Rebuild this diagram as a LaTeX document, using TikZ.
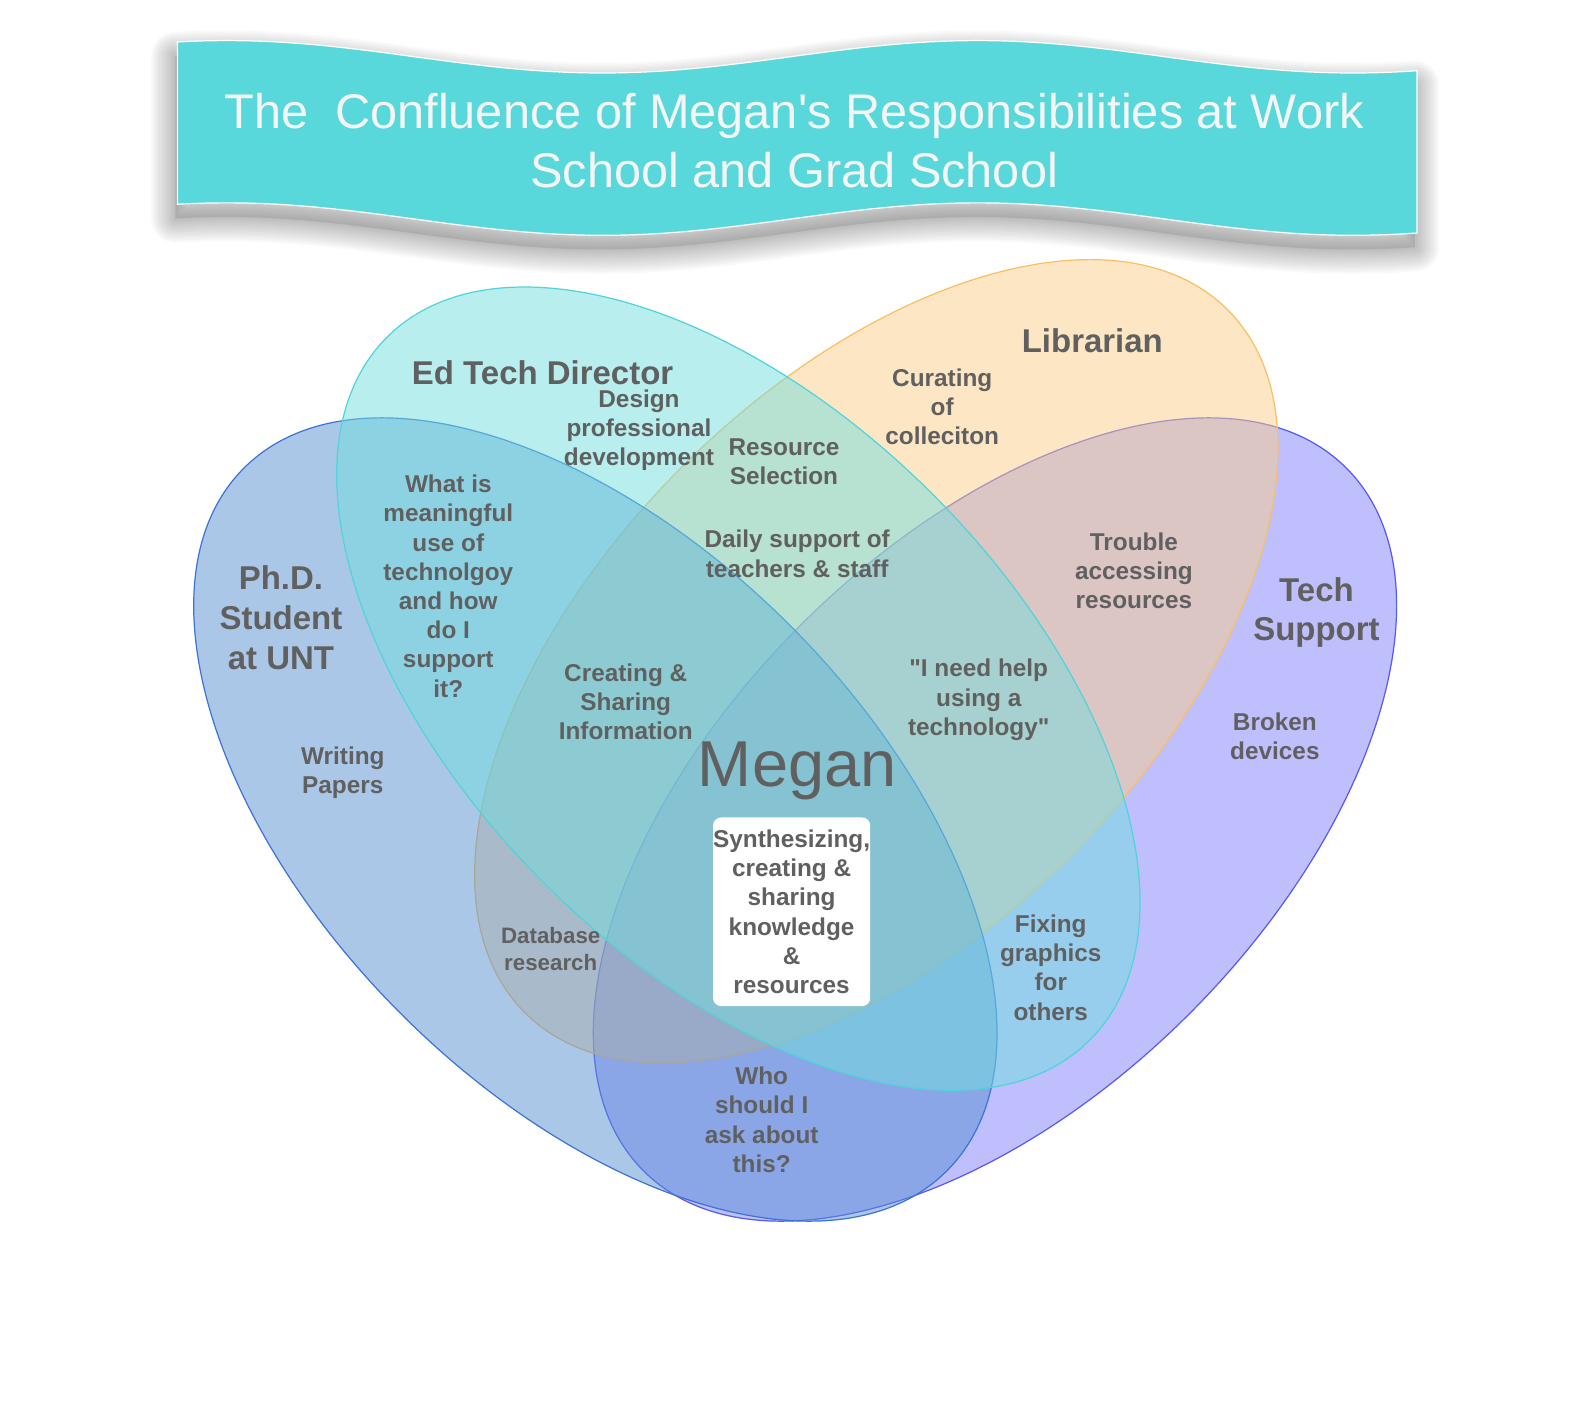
\documentclass[tikz,border=0pt]{standalone}
\usepackage{fontspec}
\setmainfont{Liberation Sans}[Ligatures=TeXOff]
\definecolor{textgray}{RGB}{96,96,96}
\definecolor{bannerC}{RGB}{88,216,218}
\definecolor{fillT}{RGB}{127,127,251}
\definecolor{fillL}{RGB}{251,205,137}
\definecolor{fillP}{RGB}{87,143,209}
\definecolor{fillE}{RGB}{113,221,221}
\definecolor{lineT}{RGB}{88,88,242}
\definecolor{lineL}{RGB}{248,192,98}
\definecolor{lineP}{RGB}{60,115,215}
\definecolor{lineE}{RGB}{80,212,218}
\begin{document}
\begin{tikzpicture}[x=0.5pt,y=-0.5pt,
  venn/.style={fill opacity=0.5, line width=0.6pt},
  lbl/.style={text=textgray, font=\bfseries\fontsize{12pt}{14.4pt}\selectfont, align=center, inner sep=0pt},
  smalllbl/.style={text=textgray, font=\bfseries\fontsize{11pt}{13.5pt}\selectfont, align=center, inner sep=0pt},
  hdr/.style={text=textgray, font=\bfseries\fontsize{16.25pt}{19.5pt}\selectfont, align=center, inner sep=0pt},
  titletext/.style={text=white!96!black, font=\fontsize{24pt}{29pt}\selectfont, align=center, inner sep=0pt},
  synbox/.style={lbl, fill=white, rounded corners=4pt, minimum width=77.5pt, minimum height=93pt, inner sep=0pt},
  shadowcore/.style={fill=black, fill opacity=0.10, draw=none},
  shadowlayer/.style={draw=black, draw opacity=0.022, fill=none, line join=round}
]
\useasboundingbox (0,0) rectangle (1567.7,1391.2);

% banner shadow (soft stacked layers)
\path[shadowcore, shift={(-2,14)}]
  plot[domain=175:1397, samples=60] (\x,{56+16*cos(0.48649*(\x-594))})
  -- plot[domain=1397:175, samples=60] (\x,{216+16*cos(0.48649*(\x-594))}) -- cycle;
\foreach \w in {2,4,...,24} {
  \path[shadowlayer, line width=\w pt, shift={(-2,14)}]
    plot[domain=175:1397, samples=60] (\x,{56+16*cos(0.48649*(\x-594))})
    -- plot[domain=1397:175, samples=60] (\x,{216+16*cos(0.48649*(\x-594))}) -- cycle;
}
% banner
\path[fill=bannerC, draw=white, line width=0.6pt]
  plot[domain=175:1397, samples=90] (\x,{56+16*cos(0.48649*(\x-594))})
  -- plot[domain=1397:175, samples=90] (\x,{216+16*cos(0.48649*(\x-594))}) -- cycle;
\node[titletext] (title) at (783,139) {The~~Confluence of Megan's Responsibilities at Work\\School and Grad School};

% ellipses (order: tech, librarian, phd, edtech)
\path[venn, fill=fillT, draw=lineT, rotate around={45:(981,808)}] (981,808) ellipse [x radius=490, y radius=271];
\path[venn, fill=fillL, draw=lineL, rotate around={45:(864,652)}] (864,652) ellipse [x radius=490, y radius=271];
\path[venn, fill=fillP, draw=lineP, rotate around={-45:(587,808)}] (587,808) ellipse [x radius=490, y radius=271];
\path[venn, fill=fillE, draw=lineE, rotate around={-45:(728,679)}] (728,679) ellipse [x radius=490, y radius=271];

% headers
\node[hdr] (edtech) at (535,367) {Ed Tech Director};
\node[hdr] (librarian) at (1077,336) {Librarian};
\node[hdr] (phd) at (277,609) {Ph.D.\\Student\\at UNT};
\node[hdr] (techsupport) at (1298,604) {Tech\\Support};

% labels
\node[lbl] (design) at (630,424) {Design\\professional\\development};
\node[lbl] (resource) at (773,455) {Resource\\Selection};
\node[lbl] (curating) at (929,401) {Curating\\of\\colleciton};
\node[lbl] (meaningful) at (442,578) {What is\\meaningful\\use of\\technolgoy\\and how\\do I\\support\\it?};
\node[lbl] (daily) at (786,546) {Daily support of\\teachers \& staff};
\node[lbl] (trouble) at (1118,563) {Trouble\\accessing\\resources};
\node[lbl] (creating) at (617,692) {Creating \&\\Sharing\\Information};
\node[lbl] (needhelp) at (965,690) {"I need help\\using a\\technology"};
\node[lbl] (writing) at (338,762) {Writing\\Papers};
\node[lbl] (broken) at (1257,726) {Broken\\devices};
\node[smalllbl] (database) at (543,936) {Database\\research};
\node[lbl] (fixing) at (1036,954) {Fixing\\graphics\\for\\others};
\node[lbl] (who) at (751,1104) {Who\\should I\\ask about\\this?};

% center
\node[text=textgray, font=\fontsize{32pt}{38pt}\selectfont, inner sep=0pt] (megan) at (786,760) {Megan};
\node[synbox] (core) at (780.5,899) {Synthesizing,\\creating \&\\sharing\\knowledge\\\&\\resources};
\end{tikzpicture}
\end{document}
